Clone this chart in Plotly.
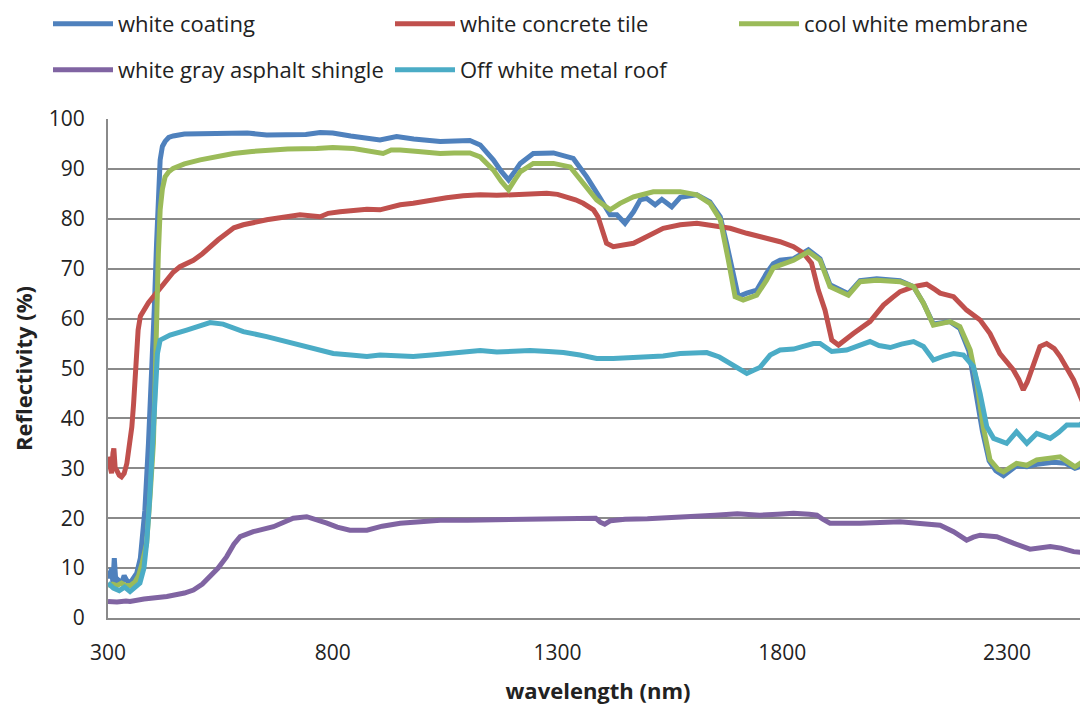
import plotly.graph_objects as go

# ---------------- data ----------------
wl_coating = [300, 304, 308, 311, 314, 318, 324, 330, 336, 342,
              349, 356, 364, 372, 382, 390, 397, 403, 408, 412,
              416, 421, 427, 435, 445, 470, 505, 560, 610, 653,
              700, 740, 772, 800, 840, 876, 905, 942, 980, 1039,
              1070, 1105, 1128, 1157, 1175, 1191, 1205, 1217, 1246, 1291,
              1335, 1365, 1395, 1417, 1432, 1450, 1469, 1484, 1498, 1517,
              1532, 1554, 1573, 1610, 1639, 1662, 1676, 1691, 1702, 1721,
              1743, 1765, 1780, 1795, 1825, 1858, 1884, 1906, 1925, 1947,
              1973, 2010, 2062, 2092, 2114, 2136, 2173, 2195, 2215, 2230,
              2245, 2260, 2275, 2292, 2321, 2344, 2366, 2403, 2430, 2451,
              2480]
r_coating = [9.5, 8, 10, 7, 12, 6.5, 7.5, 7, 8.5, 7.5,
             7, 8, 9, 12, 21.6, 35, 48.4, 62, 75, 84,
             91.8, 94.5, 95.5, 96.3, 96.6, 97.0, 97.1, 97.2, 97.2, 96.8,
             96.9, 96.9, 97.3, 97.2, 96.6, 96.2, 95.8, 96.5, 96.0, 95.5,
             95.6, 95.7, 94.8, 91.8, 89.5, 87.8, 89.5, 91.1, 93.1, 93.2,
             92.1, 88.4, 84.1, 80.8, 80.8, 79.1, 81.4, 83.8, 84.1, 82.8,
             83.9, 82.4, 84.3, 84.8, 83.4, 80.4, 75.1, 68.4, 64.4, 65.1,
             65.7, 69.1, 71.0, 71.7, 72.0, 73.8, 72.0, 66.8, 66.0, 65.0,
             67.6, 68.0, 67.6, 66.4, 63.1, 58.9, 59.4, 58.0, 53.5, 46.0,
             37.5, 31.5, 29.5, 28.5, 30.5, 30.3, 30.8, 31.2, 31.0, 30.0,
             30.8]

wl_tile = [300, 304, 308, 311, 313, 316, 319, 325, 330, 336,
           342, 348, 353, 357, 360, 364, 367, 372, 379, 390,
           401, 415, 431, 445, 460, 490, 510, 527, 545, 564,
           580, 601, 625, 653, 690, 727, 772, 790, 816, 850,
           876, 905, 950, 979, 1020, 1053, 1090, 1128, 1165, 1202,
           1240, 1276, 1300, 1320, 1340, 1357, 1370, 1380, 1390, 1398,
           1404, 1409, 1424, 1445, 1469, 1498, 1535, 1573, 1610, 1647,
           1684, 1721, 1750, 1795, 1825, 1847, 1865, 1880, 1895, 1910,
           1925, 1940, 1958, 1995, 2010, 2025, 2045, 2062, 2092, 2121,
           2140, 2151, 2181, 2195, 2210, 2240, 2262, 2284, 2300, 2314,
           2326, 2336, 2345, 2355, 2365, 2373, 2388, 2405, 2418, 2435,
           2448, 2465, 2480]
r_tile = [32.3, 30, 29.0, 33, 34.0, 30, 29.7, 28.6, 28.3, 29,
          31.0, 35, 38.3, 43, 48.4, 54, 57.7, 60.5, 61.7, 63.2,
          64.4, 66, 67.7, 69.3, 70.4, 71.7, 73, 74.4, 75.8, 77.1,
          78.2, 78.8, 79.3, 79.8, 80.3, 80.8, 80.4, 81.1, 81.4, 81.7,
          81.9, 81.8, 82.8, 83.1, 83.8, 84.2, 84.6, 84.8, 84.7, 84.9,
          85.0, 85.1, 84.9, 84.4, 83.8, 83.1, 82.4, 81.8, 80.4, 78.4,
          76.5, 75.1, 74.4, 74.7, 75.1, 76.4, 78.1, 78.8, 79.1, 78.6,
          78.1, 77.1, 76.4, 75.4, 74.4, 73.1, 71.1, 65.7, 61.7, 55.7,
          54.7, 55.8, 57.0, 59.4, 61, 62.7, 64.2, 65.4, 66.4, 66.9,
          65.8, 65.1, 64.4, 63.2, 61.7, 59.7, 57.0, 53.0, 51.3, 49.7,
          47.8, 45.7, 47.3, 49.7, 52.8, 54.4, 55.0, 54, 52.4, 50,
          47.7, 44, 40.3]

wl_membrane = [300, 310, 320, 330, 340, 350, 360, 368, 376, 386,
               394, 401, 405, 408, 412, 416, 421, 427, 435, 445,
               470, 505, 540, 579, 620, 653, 700, 764, 800, 846,
               880, 912, 930, 950, 990, 1039, 1070, 1105, 1128, 1157,
               1175, 1191, 1205, 1217, 1246, 1291, 1328, 1357, 1387, 1417,
               1439, 1469, 1513, 1573, 1610, 1639, 1662, 1680, 1695, 1713,
               1743, 1765, 1780, 1795, 1825, 1858, 1884, 1906, 1925, 1947,
               1973, 2010, 2062, 2092, 2114, 2136, 2173, 2195, 2218, 2233,
               2247, 2262, 2280, 2292, 2321, 2344, 2366, 2403, 2418, 2451,
               2480]
r_membrane = [6.5, 6.8, 6.5, 7, 6.5, 6.5, 7.2, 8.5, 11, 15,
              25, 35, 48, 61.7, 73, 81.8, 86, 88.4, 89.4, 90.1,
              91.0, 91.8, 92.5, 93.1, 93.5, 93.8, 94.0, 94.1, 94.3, 94.1,
              93.6, 93.1, 93.8, 93.8, 93.5, 93.1, 93.2, 93.2, 92.4, 89.8,
              87.5, 85.8, 87.8, 89.4, 91.1, 91.1, 90.4, 87.1, 83.8, 81.8,
              83.1, 84.4, 85.4, 85.4, 84.8, 83.1, 79.8, 71.7, 64.4, 63.7,
              64.7, 67.7, 70.2, 70.7, 71.7, 73.4, 71.7, 66.4, 65.7, 64.7,
              67.4, 67.7, 67.4, 66.4, 63.1, 58.7, 59.4, 58.4, 53.7, 47.0,
              38.3, 31.7, 29.8, 29.3, 31.0, 30.6, 31.7, 32.0, 32.3, 30.3,
              32.0]

wl_shingle = [300, 320, 340, 349, 380, 431, 470, 490, 510, 527,
              545, 564, 580, 594, 623, 668, 690, 712, 742, 765,
              787, 810, 838, 876, 910, 950, 1000, 1039, 1100, 1150,
              1200, 1250, 1306, 1350, 1385, 1395, 1405, 1418, 1450, 1500,
              1550, 1600, 1650, 1700, 1750, 1790, 1825, 1860, 1877, 1890,
              1906, 1973, 2030, 2062, 2100, 2151, 2181, 2210, 2225, 2240,
              2277, 2295, 2314, 2351, 2396, 2420, 2448, 2480]
r_shingle = [3.3, 3.2, 3.4, 3.3, 3.8, 4.3, 5.0, 5.6, 6.8, 8.3,
             10.0, 12.3, 14.8, 16.3, 17.3, 18.3, 19.2, 20.0, 20.3, 19.7,
             19.0, 18.2, 17.6, 17.6, 18.4, 19.0, 19.4, 19.6, 19.6, 19.7,
             19.6, 19.8, 20.0, 20.1, 20.0, 19.2, 18.8, 19.5, 19.8, 19.9,
             20.1, 20.2, 20.6, 20.9, 20.6, 20.8, 21.0, 20.8, 20.6, 19.8,
             19.0, 19.0, 19.1, 19.3, 19.0, 18.6, 17.3, 15.6, 16.2, 16.6,
             16.3, 15.6, 15.0, 13.8, 14.3, 14.0, 13.3, 13.0]

wl_metal = [300, 312, 325, 337, 349, 360, 371, 380, 386, 392,
            397, 401, 405, 410, 416, 438, 475, 500, 527, 556,
            580, 601, 653, 690, 727, 765, 801, 840, 876, 905,
            950, 979, 1020, 1053, 1090, 1128, 1165, 1202, 1239, 1280,
            1313, 1350, 1387, 1424, 1460, 1498, 1535, 1573, 1600, 1632,
            1660, 1684, 1705, 1721, 1735, 1750, 1773, 1795, 1825, 1850,
            1869, 1884, 1897, 1910, 1943, 1970, 1995, 2015, 2040, 2065,
            2092, 2114, 2136, 2160, 2181, 2203, 2225, 2240, 2255, 2270,
            2299, 2321, 2344, 2366, 2396, 2415, 2433, 2462, 2480]
r_metal = [7.0, 6.0, 5.5, 6.2, 5.3, 6.0, 7.0, 10, 15, 23,
           31.7, 40, 48.4, 53, 55.7, 56.7, 57.7, 58.5, 59.2, 58.9,
           58.0, 57.4, 56.4, 55.6, 54.7, 53.8, 53.0, 52.7, 52.4, 52.7,
           52.5, 52.4, 52.7, 53.0, 53.3, 53.6, 53.3, 53.4, 53.6, 53.4,
           53.2, 52.7, 52.0, 52.0, 52.1, 52.2, 52.5, 53.0, 53.1, 53.2,
           52.3, 51.0, 49.7, 49.0, 49.6, 50.2, 52.7, 53.7, 53.9, 54.6,
           55.0, 55.0, 54.2, 53.4, 53.7, 54.6, 55.4, 54.6, 54.2, 54.9,
           55.4, 54.4, 51.7, 52.5, 53.0, 52.7, 50.4, 45.0, 38.3, 36.0,
           35.0, 37.3, 35.0, 37.0, 36.0, 37.2, 38.7, 38.7, 40.0]

x_ticks = [300, 800, 1300, 1800, 2300]
y_ticks = [0, 10, 20, 30, 40, 50, 60, 70, 80, 90, 100]

series = [
    ("white coating", wl_coating, r_coating, "#4F81BD", "legend"),
    ("white concrete tile", wl_tile, r_tile, "#C0504D", "legend"),
    ("cool white membrane", wl_membrane, r_membrane, "#9BBB59", "legend3"),
    ("white gray asphalt shingle", wl_shingle, r_shingle, "#8064A2", "legend2"),
    ("Off white metal roof", wl_metal, r_metal, "#4BACC6", "legend2"),
]

FONT = "Open Sans"
TXT = "#222222"
GRID = "#8a8a8a"

# the page body adds an 8 px offset; the figure fills the rest of the window
W, H = 1080, 698
COL = 343  # legend column pitch in px

fig = go.Figure()
for name, xs, ys, col, lg in series:
    assert len(xs) == len(ys), name
    fig.add_trace(go.Scatter(x=xs, y=ys, name=name, mode="lines",
                             line=dict(color=col, width=5),
                             legend=lg))

leg_common = dict(orientation="h", xref="container", yref="container",
                  xanchor="left", yanchor="middle",
                  entrywidth=COL - 76, entrywidthmode="pixels",
                  itemwidth=60, font=dict(family=FONT, size=22, color=TXT),
                  bgcolor="rgba(0,0,0,0)", borderwidth=0)

fig.update_layout(
    width=W, height=H,
    margin=dict(l=100, r=0, t=111, b=88, autoexpand=False),
    paper_bgcolor="white", plot_bgcolor="white",
    font=dict(family=FONT, color=TXT),
    legend=dict(x=40 / W, y=1 - 16 / H, **leg_common),
    legend3=dict(x=(40 + 2 * COL) / W, y=1 - 16 / H, **leg_common),
    legend2=dict(x=40 / W, y=1 - 62 / H, **leg_common),
    xaxis=dict(range=[300, 2480], tickvals=x_ticks, ticktext=[str(v) for v in x_ticks],
               showgrid=False, zeroline=False, showline=True, linecolor=GRID, linewidth=2,
               ticks="outside", ticklen=15, tickcolor="rgba(0,0,0,0)", automargin=True,
               tickfont=dict(family=FONT, size=21, color=TXT),
               title=dict(text="<b>wavelength (nm)</b>", font=dict(family=FONT, size=22, color=TXT),
                          standoff=18)),
    yaxis=dict(range=[0, 100], tickvals=y_ticks, showgrid=True, gridcolor=GRID, gridwidth=2,
               zeroline=False, showline=True, linecolor=GRID, linewidth=2, automargin=True,
               ticks="", ticklabelstandoff=17, tickfont=dict(family=FONT, size=21, color=TXT),
               title=dict(text="<b>Reflectivity (%)</b>", font=dict(family=FONT, size=22, color=TXT),
                          standoff=24)),
)

fig.write_html("out.html")
